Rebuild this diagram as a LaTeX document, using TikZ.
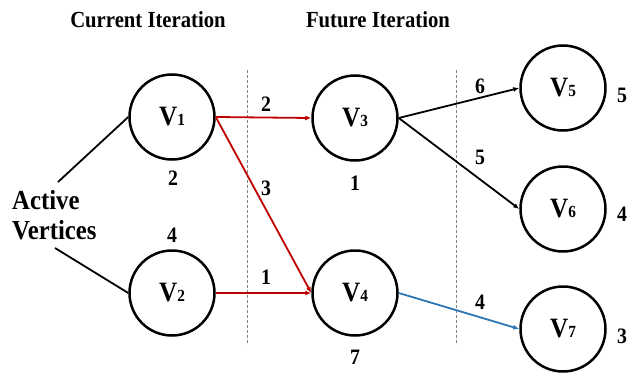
\documentclass[tikz,border=0pt]{standalone}
\usepackage{fontspec}
\setmainfont{Liberation Serif}[FakeStretch=0.9]
\usetikzlibrary{arrows.meta}
\definecolor{edgered}{HTML}{C00000}
\definecolor{edgeblue}{HTML}{2E75B6}
\definecolor{divgray}{HTML}{808080}
\newcommand{\vlab}[1]{{\fontsize{28}{28}\selectfont V}{\fontsize{17}{17}\selectfont #1}}
\begin{document}
\begin{tikzpicture}[x=1pt,y=-1pt,
  vert/.style={draw, circle, line width=2.5pt, minimum size=85pt, inner sep=0pt, font=\bfseries},
  title/.style={font=\bfseries\fontsize{23}{23}\selectfont},
  weight/.style={font=\bfseries\fontsize{22}{22}\selectfont, inner sep=0pt},
  conn/.style={line width=1.8pt},
  arr/.style={line width=1.8pt, -{Latex[length=6pt,width=5pt]}},
  divider/.style={divgray, line width=0.8pt, dash pattern=on 3pt off 2pt}
]
\useasboundingbox (0,0) rectangle (630,375);

\node[title] (t1) at (148,20) {Current Iteration};
\node[title] (t2) at (378,20) {Future Iteration};

\coordinate (d1a) at (247,70); \coordinate (d1b) at (247,345);
\coordinate (d2a) at (456,70); \coordinate (d2b) at (456,345);
\draw[divider] (d1a) -- (d1b);
\draw[divider] (d2a) -- (d2b);

\node[vert] (v1) at (172,117) {\vlab{1}};
\node[vert] (v2) at (172,293) {\vlab{2}};
\node[vert] (v3) at (355,118) {\vlab{3}};
\node[vert] (v4) at (355,293) {\vlab{4}};
\node[vert] (v5) at (563,88) {\vlab{5}};
\node[vert] (v6) at (563,209) {\vlab{6}};
\node[vert] (v7) at (563,329) {\vlab{7}};

\node[font=\bfseries\fontsize{27.5}{30}\selectfont, align=left, anchor=west, inner sep=0pt] (av) at (12,215) {Active\\Vertices};
\coordinate (av1) at (58,182);
\coordinate (av2) at (55,248);
\draw[conn] (av1) -- (v1.west);
\draw[conn] (av2) -- (v2.west);

\draw[arr, edgered] (v1.east) -- (v3.west);
\draw[arr, edgered] (v1.east) -- (v4.west);
\draw[arr, edgered] (v2.east) -- (v4.west);
\draw[arr] (v3.east) -- (v5.west);
\draw[arr] (v3.east) -- (v6.west);
\draw[arr, edgeblue] (v4.east) -- (v7.west);

\node[weight] (w12) at (266,104) {2};
\node[weight] (w13) at (266,188) {3};
\node[weight] (w23) at (266,277) {1};
\node[weight] (w35) at (480,86) {6};
\node[weight] (w36) at (480,157) {5};
\node[weight] (w47) at (480,302) {4};

\node[weight] (n1) at (173,178) {2};
\node[weight] (n2) at (172,235) {4};
\node[weight] (n3) at (355,183) {1};
\node[weight] (n4) at (355,357) {7};
\node[weight] (n5) at (622,95) {5};
\node[weight] (n6) at (622,214) {4};
\node[weight] (n7) at (622,336) {3};
\end{tikzpicture}
\end{document}
